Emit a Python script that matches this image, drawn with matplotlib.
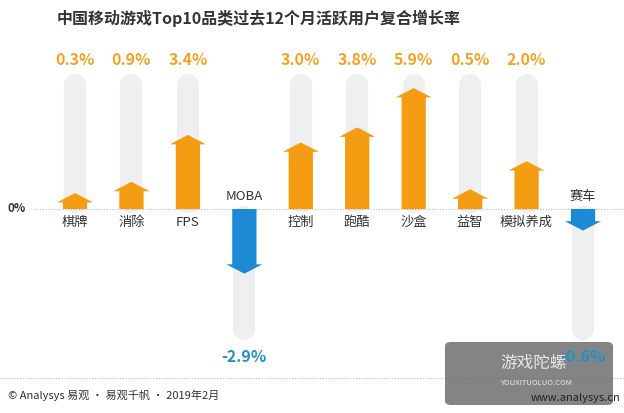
import matplotlib.pyplot as plt
from matplotlib.patches import FancyArrow, FancyBboxPatch

plt.rcParams['font.family'] = ['Noto Sans CJK SC', 'DejaVu Sans']

# ==========================================================
# 数据
# ==========================================================

categories = ["棋牌", "消除", "FPS", "MOBA", "控制", "跑酷", "沙盒", "益智", "模拟养成", "赛车"]
growth = [0.3, 0.9, 3.4, -2.9, 3.0, 3.8, 5.9, 0.5, 2.0, -0.6]
value_labels = ["0.3%", "0.9%", "3.4%", "-2.9%", "3.0%", "3.8%", "5.9%", "0.5%", "2.0%", "-0.6%"]

title = "中国移动游戏Top10品类过去12个月活跃用户复合增长率"
footer = "© Analysys 易观 · 易观千帆 · 2019年2月"

orange = "#F59D12"
blue = "#1C8AD4"
pill = "#EFEFF2"

# ==========================================================
# 画布
# ==========================================================

fig = plt.figure(figsize=(6.24, 4.13), dpi=100)
ax = fig.add_axes([0, 0, 1, 1])
ax.set_xlim(-1.329, 9.726)
ax.set_ylim(-10.88, 11.147)
ax.axis("off")

base = 0.55  # arrow length offset

for i, v in enumerate(growth):
    # background pill
    if v >= 0:
        ax.plot([i, i], [0.4, 6.6], color=pill, lw=16, solid_capstyle="round", zorder=1)
    else:
        ax.plot([i, i], [-0.4, -6.4], color=pill, lw=16, solid_capstyle="round", zorder=1)

    length = abs(v) + base
    sign = 1 if v >= 0 else -1
    color = orange if v >= 0 else blue
    arrow = FancyArrow(
        i, 0, 0, sign * length,
        width=0.43, head_width=0.64, head_length=0.5,
        length_includes_head=True, color=color, lw=0, zorder=3
    )
    ax.add_patch(arrow)

    if v >= 0:
        ax.text(i, 7.95, value_labels[i], ha="center", va="center",
                fontsize=11.5, fontweight="bold", color="#F5A325")
        ax.text(i, -0.7, categories[i], ha="center", va="center",
                fontsize=9.5, color="#333333")
    else:
        ax.text(i, -7.9, value_labels[i], ha="center", va="center",
                fontsize=11.5, fontweight="bold", color="#2290C6", zorder=8)
        ax.text(i, 0.65, categories[i], ha="center", va="center",
                fontsize=9.5, color="#333333")

# zero line
ax.plot([-0.72, 9.726], [0, 0], color="#BBBBBB", lw=0.8, ls=(0, (1, 1.5)), zorder=2)
fig.text(8 / 624, 1 - 209 / 413, "0%", ha="left", va="center",
         fontsize=8.5, fontweight="bold", color="#333333")

# title
fig.text(0.415, 1 - 18 / 413, title, ha="center", va="center",
         fontsize=11.5, fontweight="bold", color="#333333")

# bottom separator and footer
ax.plot([0, 1], [1 - 378 / 413, 1 - 378 / 413], transform=fig.transFigure,
        color="#BBBBBB", lw=0.8, ls=(0, (1, 1.5)), zorder=2)
fig.text(8 / 624, 1 - 395 / 413, footer, ha="left", va="center",
         fontsize=8, color="#333333")

# watermark box
box = FancyBboxPatch((445 / 624, 1 - 405 / 413), 168 / 624, 63 / 413,
                     boxstyle="round,pad=0,rounding_size=0.01",
                     transform=fig.transFigure, facecolor="#6E6E6E",
                     edgecolor="none", alpha=0.85, zorder=5)
ax.add_patch(box)
ax.text(500 / 624, 1 - 363 / 413, "游戏陀螺", ha="left", va="center",
        transform=fig.transFigure, fontsize=12, color="#E8E8E8", zorder=6)
ax.text(500 / 624, 1 - 383 / 413, "YOUXITUOLUO.COM", ha="left", va="center",
        transform=fig.transFigure, fontsize=5.5, color="#E8E8E8", zorder=6)
ax.text(620 / 624, 1 - 398 / 413, "www.analysys.cn", ha="right", va="center",
        transform=fig.transFigure, fontsize=8, color="#222222", zorder=7)

fig.savefig("out.png", dpi=100)
